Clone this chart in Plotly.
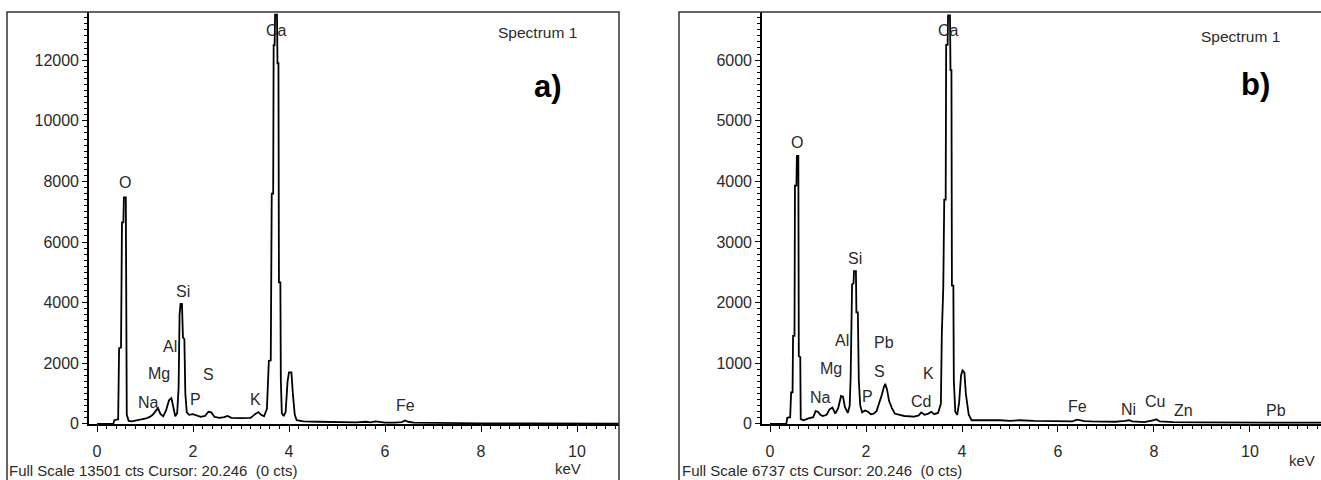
import plotly.graph_objects as go

W, H = 1321, 480          # reference pixel frame
FIG_H = 490               # rendered height (capture is rescaled to 480)

# ---------------- data: spectrum a) ----------------
energy_a = [0.00, 0.34, 0.36, 0.44, 0.46, 0.50, 0.52, 0.55, 0.56, 0.60, 0.62, 0.66, 0.72, 0.80, 0.90,
            1.00, 1.05, 1.10, 1.16, 1.22, 1.27, 1.32, 1.38, 1.44, 1.50, 1.55, 1.59, 1.63, 1.67, 1.70,
            1.72, 1.74, 1.77, 1.79, 1.82, 1.84, 1.87, 1.92, 2.00, 2.08, 2.16, 2.25, 2.32, 2.38, 2.45,
            2.55, 2.65, 2.72, 2.80, 3.00, 3.20, 3.30, 3.36, 3.42, 3.48, 3.54, 3.58, 3.62, 3.64, 3.67,
            3.68, 3.70, 3.71, 3.75, 3.76, 3.78, 3.79, 3.82, 3.83, 3.85, 3.89, 3.93, 3.97, 4.00, 4.05,
            4.08, 4.12, 4.16, 4.30, 4.60, 5.00, 5.40, 5.60, 5.70, 5.80, 5.90, 6.00, 6.20, 6.35, 6.42,
            6.48, 6.60, 7.00, 8.00, 9.00, 10.00, 10.87]
counts_a = [0, 0, 120, 150, 2500, 2520, 6650, 6650, 7470, 7470, 300, 100, 80, 100, 130,
            170, 200, 230, 300, 420, 520, 330, 250, 450, 780, 850, 500, 250, 350, 1200,
            3600, 3960, 3960, 2850, 2800, 1000, 380, 300, 320, 280, 230, 260, 400, 380, 230,
            200, 220, 260, 200, 190, 200, 330, 390, 300, 250, 500, 2080, 2100, 7600, 7600,
            12500, 12500, 13501, 13501, 11900, 11900, 4670, 4670, 1420, 350, 260, 400, 1400, 1700, 1700,
            1000, 300, 120, 80, 70, 60, 50, 70, 50, 80, 60, 40, 40, 60, 110,
            70, 40, 30, 20, 15, 10, 10]

labels_a = ["O", "Ca", "Si", "Al", "Mg", "S", "Na", "P", "K", "Fe"]
label_x_a = [0.58, 3.73, 1.785, 1.52, 1.30, 2.32, 1.07, 2.06, 3.31, 6.42]
label_y_a = [7950, 12990, 4375, 2545, 1664, 1642, 705, 793, 816, 595]

# ---------------- data: spectrum b) ----------------
energy_b = [0.00, 0.34, 0.36, 0.42, 0.44, 0.47, 0.48, 0.51, 0.52, 0.55, 0.56, 0.59, 0.60, 0.63, 0.64,
            0.70, 0.80, 0.90, 0.95, 1.00, 1.05, 1.10, 1.18, 1.24, 1.30, 1.36, 1.42, 1.48, 1.52, 1.56,
            1.62, 1.66, 1.68, 1.71, 1.74, 1.75, 1.79, 1.80, 1.83, 1.85, 1.88, 1.92, 1.98, 2.04, 2.10,
            2.16, 2.22, 2.28, 2.33, 2.37, 2.40, 2.44, 2.48, 2.54, 2.60, 2.70, 2.80, 3.00, 3.10, 3.15,
            3.22, 3.30, 3.36, 3.42, 3.50, 3.56, 3.58, 3.61, 3.63, 3.66, 3.67, 3.70, 3.71, 3.75, 3.76,
            3.78, 3.79, 3.82, 3.83, 3.86, 3.90, 3.94, 3.98, 4.01, 4.05, 4.08, 4.14, 4.20, 4.40, 4.60,
            4.80, 5.00, 5.20, 5.50, 6.00, 6.30, 6.40, 6.46, 6.55, 6.70, 7.00, 7.20, 7.40, 7.48, 7.55,
            7.80, 8.00, 8.05, 8.12, 8.40, 9.00, 10.00, 10.50, 11.00, 11.48]
counts_b = [0, 0, 100, 110, 520, 520, 1450, 1450, 3930, 3930, 4420, 4420, 1120, 1100, 80,
            60, 90, 110, 210, 200, 150, 130, 150, 240, 270, 170, 260, 460, 450, 280,
            180, 300, 770, 2300, 2320, 2520, 2520, 1840, 1840, 710, 300, 190, 220, 200, 160,
            170, 210, 350, 480, 600, 660, 560, 380, 260, 170, 150, 130, 120, 140, 190,
            150, 170, 200, 160, 180, 330, 1500, 2250, 3700, 3700, 6250, 6250, 6737, 6737, 5835,
            5835, 2280, 2280, 710, 200, 150, 350, 800, 880, 850, 500, 150, 60, 60, 70,
            60, 50, 60, 50, 40, 40, 70, 60, 45, 40, 40, 35, 50, 60, 40,
            30, 60, 75, 40, 30, 25, 20, 30, 20, 20]

labels_b = ["O", "Ca", "Si", "Al", "Pb", "Mg", "S", "K", "Na", "P", "Cd", "Fe", "Ni", "Cu", "Zn", "Pb"]
label_x_b = [0.556, 3.71, 1.77, 1.49, 2.38, 1.28, 2.29, 3.30, 1.06, 2.03, 3.14, 6.40, 7.46, 8.03, 8.61, 10.54]
label_y_b = [4633, 6496, 2722, 1372, 1344, 921, 865, 832, 435, 446, 369, 281, 243, 369, 215, 215]

x_ticks = [0, 2, 4, 6, 8, 10]
footer_a = "Full Scale 13501 cts Cursor: 20.246 \u00a0(0 cts)"
footer_b = "Full Scale 6737 cts Cursor: 20.246 \u00a0(0 cts)"
panel_tags = ["a)", "b)"]

FONT = "Arial, Liberation Sans, sans-serif"
TXT = "#2a2a2a"

fig = go.Figure()
fig.add_trace(go.Scatter(x=energy_a, y=counts_a, mode="lines", xaxis="x", yaxis="y",
                         line=dict(color="black", width=1.8), showlegend=False, hoverinfo="skip"))
fig.add_trace(go.Scatter(x=energy_b, y=counts_b, mode="lines", xaxis="x2", yaxis="y2",
                         line=dict(color="black", width=1.8), showlegend=False, hoverinfo="skip"))

def px_x(p):
    return p / W

def px_y(p):
    return 1 - p / H

common_x = dict(tickvals=x_ticks, ticks="outside", ticklen=6, tickwidth=1.2, tickcolor="black",
                showline=True, linecolor="black", linewidth=1.6, showgrid=False, zeroline=False,
                tickfont=dict(family=FONT, size=16, color=TXT), ticklabelstandoff=6,
                minor=dict(dtick=0.2, tick0=0, ticks="outside", ticklen=3, tickcolor="black", tickwidth=1, showgrid=False))
common_y = dict(ticks="outside", ticklen=5, tickwidth=1.2, tickcolor="black", tickformat="d",
                showline=True, linecolor="black", linewidth=1.6, showgrid=False, zeroline=False,
                tickfont=dict(family=FONT, size=16, color=TXT))

fig.update_layout(
    width=W, height=FIG_H, margin=dict(l=0, r=0, t=0, b=0), autosize=False,
    paper_bgcolor="white", plot_bgcolor="white",
    xaxis=dict(domain=[px_x(89), px_x(619)], range=[-0.167, 10.875], anchor="y", **common_x),
    yaxis=dict(domain=[px_y(423), px_y(12)], range=[0, 13590], anchor="x", dtick=2000,
               minor=dict(dtick=200, ticks="outside", ticklen=3, tickcolor="black", tickwidth=1, showgrid=False),
               **common_y),
    xaxis2=dict(domain=[px_x(762), 1.0], range=[-0.167, 11.48], anchor="y2", **common_x),
    yaxis2=dict(domain=[px_y(423), px_y(12)], range=[0, 6793], anchor="x2", dtick=1000,
                minor=dict(dtick=100, ticks="outside", ticklen=3, tickcolor="black", tickwidth=1, showgrid=False),
                **common_y),
)

# panel frames
fig.add_shape(type="rect", xref="paper", yref="paper", x0=px_x(7), x1=px_x(619), y0=-0.05, y1=px_y(12),
              line=dict(color="#333333", width=1.5), layer="above")
fig.add_shape(type="rect", xref="paper", yref="paper", x0=px_x(679), x1=1.05, y0=-0.05, y1=px_y(12),
              line=dict(color="#333333", width=1.5), layer="above")

ann = []
for t, xv, yv in zip(labels_a, label_x_a, label_y_a):
    ann.append(dict(x=xv, y=yv, xref="x", yref="y", text=t, showarrow=False,
                    font=dict(family=FONT, size=16, color=TXT), xanchor="center", yanchor="middle"))
for t, xv, yv in zip(labels_b, label_x_b, label_y_b):
    ann.append(dict(x=xv, y=yv, xref="x2", yref="y2", text=t, showarrow=False,
                    font=dict(family=FONT, size=16, color=TXT), xanchor="center", yanchor="middle"))

# Spectrum titles and panel tags
ann.append(dict(x=px_x(537), y=px_y(32), xref="paper", yref="paper", text="Spectrum 1", showarrow=False,
                font=dict(family=FONT, size=15.5, color=TXT), xanchor="center", yanchor="middle"))
ann.append(dict(x=px_x(1240), y=px_y(36), xref="paper", yref="paper", text="Spectrum 1", showarrow=False,
                font=dict(family=FONT, size=15.5, color=TXT), xanchor="center", yanchor="middle"))
ann.append(dict(x=px_x(548), y=px_y(86), xref="paper", yref="paper", text="<b>%s</b>" % panel_tags[0], showarrow=False,
                font=dict(family=FONT, size=31, color="black"), xanchor="center", yanchor="middle"))
ann.append(dict(x=px_x(1255), y=px_y(84), xref="paper", yref="paper", text="<b>%s</b>" % panel_tags[1], showarrow=False,
                font=dict(family=FONT, size=31, color="black"), xanchor="center", yanchor="middle"))

# footers and keV
ann.append(dict(x=px_x(7), y=px_y(470), xref="paper", yref="paper", text=footer_a, showarrow=False,
                font=dict(family=FONT, size=15, color=TXT), xanchor="left", yanchor="middle"))
ann.append(dict(x=px_x(680), y=px_y(470), xref="paper", yref="paper", text=footer_b, showarrow=False,
                font=dict(family=FONT, size=15, color=TXT), xanchor="left", yanchor="middle"))
ann.append(dict(x=px_x(568), y=px_y(468), xref="paper", yref="paper", text="keV", showarrow=False,
                font=dict(family=FONT, size=15, color=TXT), xanchor="center", yanchor="middle"))
ann.append(dict(x=px_x(1302), y=px_y(460), xref="paper", yref="paper", text="keV", showarrow=False,
                font=dict(family=FONT, size=15, color=TXT), xanchor="center", yanchor="middle"))

fig.update_layout(annotations=ann)

post = ("document.documentElement.style.overflow='hidden';"
        "document.body.style.margin='0';document.body.style.overflow='hidden';"
        "var gd=document.getElementById('{plot_id}');"
        "gd.style.position='fixed';gd.style.left='0px';gd.style.top='0px';")
fig.write_html("out.html", config={"displayModeBar": False, "responsive": False}, post_script=post)
